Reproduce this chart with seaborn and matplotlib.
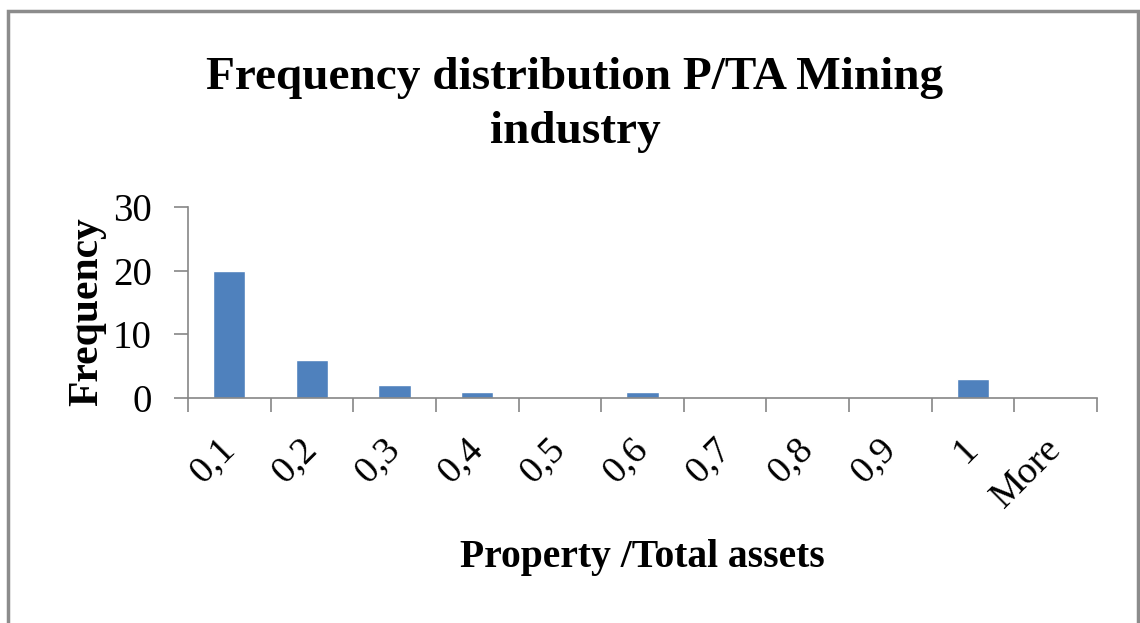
import matplotlib
matplotlib.use("Agg")
import matplotlib.pyplot as plt
import matplotlib.transforms as mtransforms
import numpy as np
import seaborn as sns
from matplotlib.patches import Rectangle

bins = ["0,1", "0,2", "0,3", "0,4", "0,5", "0,6", "0,7", "0,8", "0,9", "1", "More"]
frequency = [20, 6, 2, 1, 0, 1, 0, 0, 0, 3, 0]
y_ticks = [0, 10, 20, 30]

sns.set_theme(style="white")
plt.rcParams["font.family"] = ["Liberation Serif", "DejaVu Serif"]
plt.rcParams["text.color"] = "black"
plt.rcParams["xtick.color"] = "black"
plt.rcParams["ytick.color"] = "black"
plt.rcParams["axes.labelcolor"] = "black"

fig = plt.figure(figsize=(11.4, 6.23), dpi=100)
ax = fig.add_axes([188 / 1140, 1 - 398 / 623, (1097 - 188) / 1140, (398 - 207) / 623])

sns.barplot(x=bins, y=frequency, color="#4F81BD", width=0.39, saturation=1, ax=ax)

ax.set_xlim(-0.5, len(bins) - 0.5)
ax.set_ylim(0, 30)
ax.set_yticks(y_ticks)
ax.tick_params(axis="y", labelsize=28, length=10, width=1.2, color="#868686", direction="out", pad=16, left=True)

# category ticks sit between bars, labels centred under bars
ax.set_xticks(np.arange(len(bins)))
ax.set_xticklabels(bins, rotation=45, ha="right", va="center", rotation_mode="anchor")
ax.set_xticks(np.arange(len(bins) + 1) - 0.5, minor=True)
ax.tick_params(axis="x", which="major", length=0, labelsize=27.5, pad=30)
ax.tick_params(axis="x", which="minor", length=10, width=1.2, color="#868686", direction="out", bottom=True)
shift = mtransforms.ScaledTranslation(0, -4 / 100, fig.dpi_scale_trans)
for lab in ax.get_xticklabels():
    lab.set_transform(lab.get_transform() + shift)

for side in ["top", "right"]:
    ax.spines[side].set_visible(False)
for side in ["left", "bottom"]:
    ax.spines[side].set_color("#868686")
    ax.spines[side].set_linewidth(1.2)
ax.grid(False)

ax.set_ylabel("")
ax.set_xlabel("")
fig.text(87 / 1140, 1 - 312 / 623, "Frequency", fontsize=30, fontweight="bold", rotation=90,
         ha="center", va="center")
fig.text(642 / 1140, 1 - 557 / 623, "Property /Total assets", fontsize=28.5, fontweight="bold",
         ha="center", va="center")
fig.text(575 / 1140, 1 - 105 / 623, "Frequency distribution P/TA Mining\nindustry", fontsize=34,
         fontweight="bold", ha="center", va="center", linespacing=1.35)

fig.patches.append(Rectangle((8 / 1140, -0.05), (1138 - 8) / 1140, 1.05 - 11 / 623, transform=fig.transFigure,
                             fill=False, edgecolor="#8c8c8c", linewidth=2.5))

fig.savefig("out.png", dpi=100)
